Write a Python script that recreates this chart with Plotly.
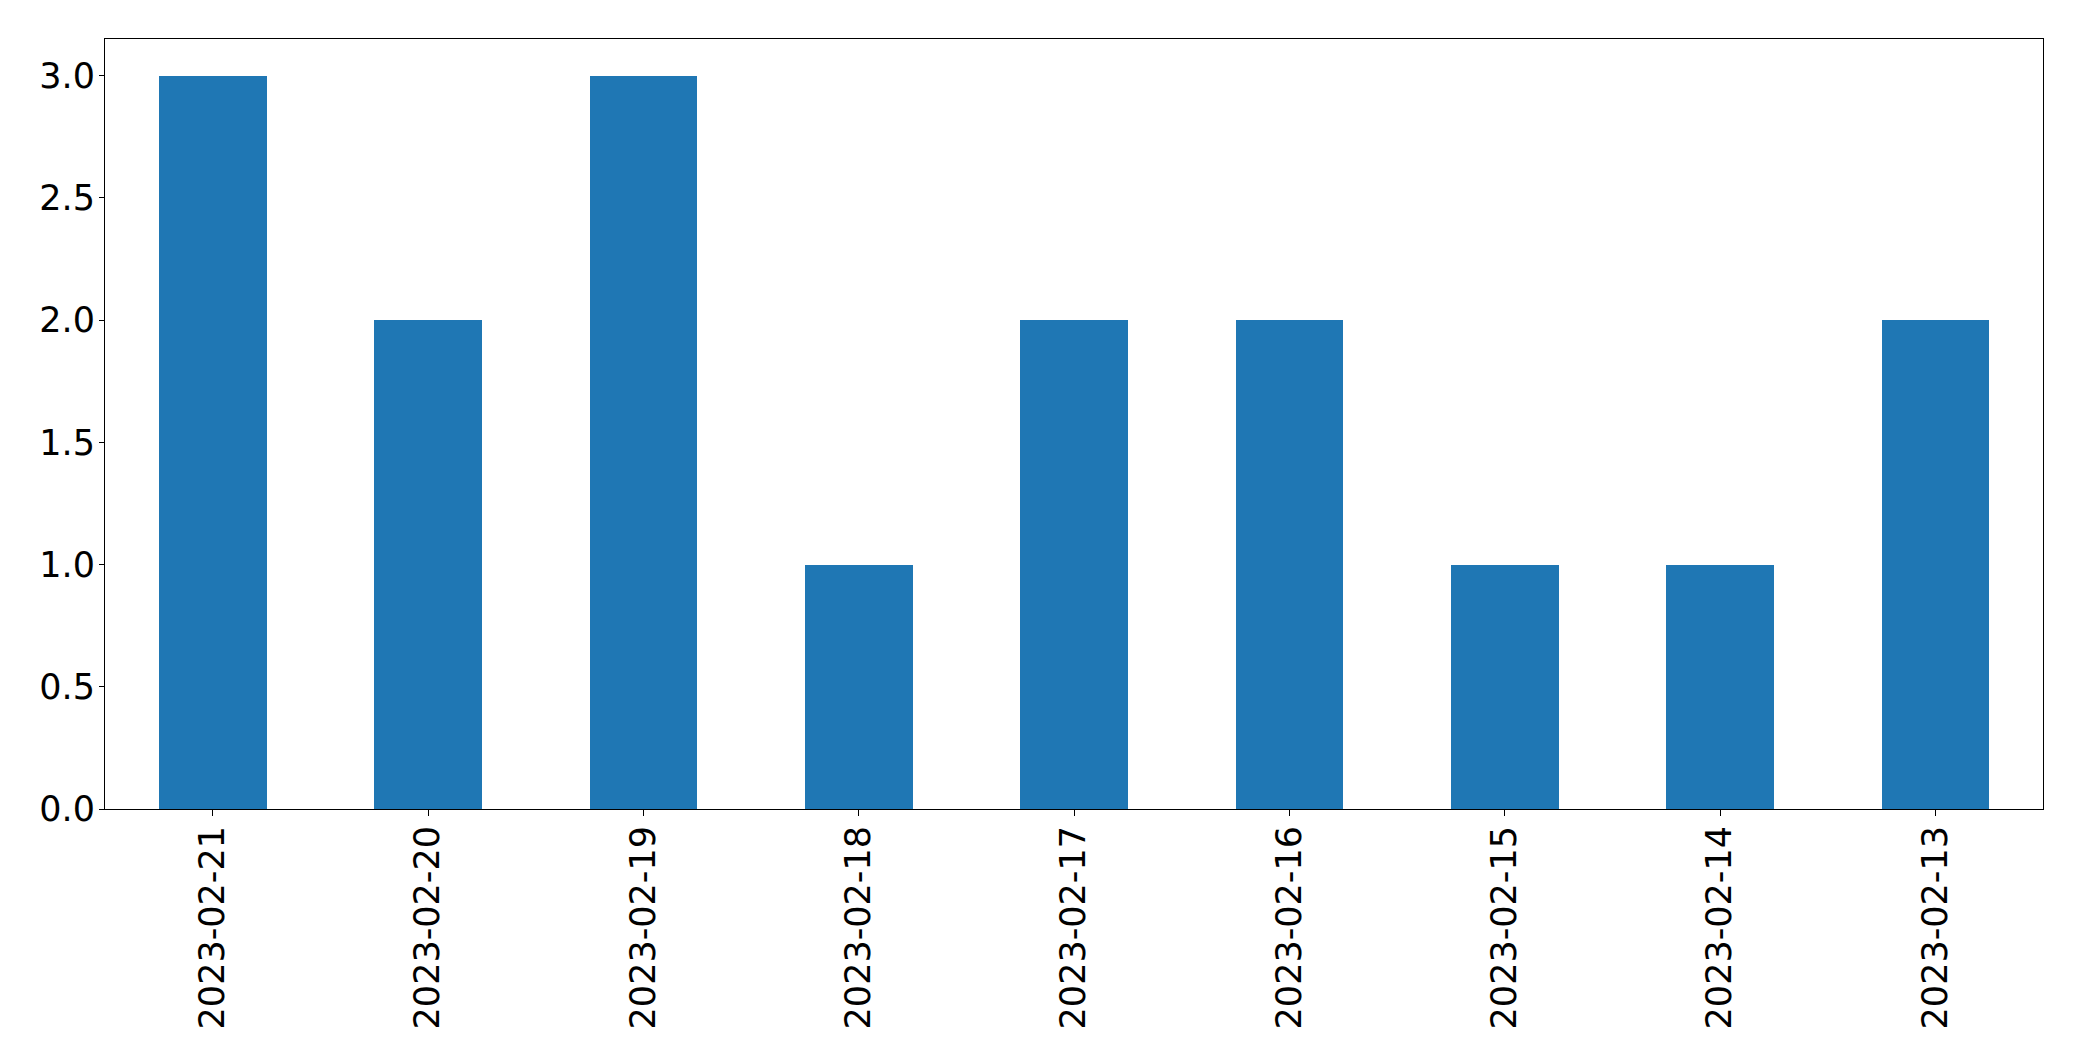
import plotly.graph_objects as go

dates = ["2023-02-21", "2023-02-20", "2023-02-19", "2023-02-18", "2023-02-17",
         "2023-02-16", "2023-02-15", "2023-02-14", "2023-02-13"]
counts = [3, 2, 3, 1, 2, 2, 1, 1, 2]
y_ticks = [0.0, 0.5, 1.0, 1.5, 2.0, 2.5, 3.0]

fig = go.Figure(go.Bar(x=list(range(len(dates))), y=counts, width=0.5,
                       marker=dict(color="#1f77b4", line=dict(width=0))))

fig.update_layout(
    width=2082, height=1061,
    margin=dict(l=105, r=39, t=39, b=252, pad=0),
    paper_bgcolor="white", plot_bgcolor="white",
    font=dict(family="DejaVu Sans", size=35, color="black"),
    showlegend=False,
    bargap=0,
)
fig.update_xaxes(
    range=[-0.5, len(dates) - 0.5],
    tickmode="array", tickvals=list(range(len(dates))), ticktext=dates,
    tickangle=-90, ticks="outside", ticklen=6, tickwidth=1, tickcolor="black",
    showline=True, linecolor="black", linewidth=1, mirror=True,
    showgrid=False, zeroline=False, ticklabelstandoff=-4,
)
fig.update_yaxes(
    range=[0, 3.15],
    tickmode="array", tickvals=y_ticks, ticktext=[f"{v:.1f}" for v in y_ticks],
    ticks="outside", ticklen=5, tickwidth=1, tickcolor="black",
    showline=True, linecolor="black", linewidth=1, mirror=True,
    showgrid=False, zeroline=False, ticklabelstandoff=-3,
)

fig.write_html("out.html", config={"displayModeBar": False},
               post_script="document.body.style.margin='0';document.body.style.overflow='hidden';")
